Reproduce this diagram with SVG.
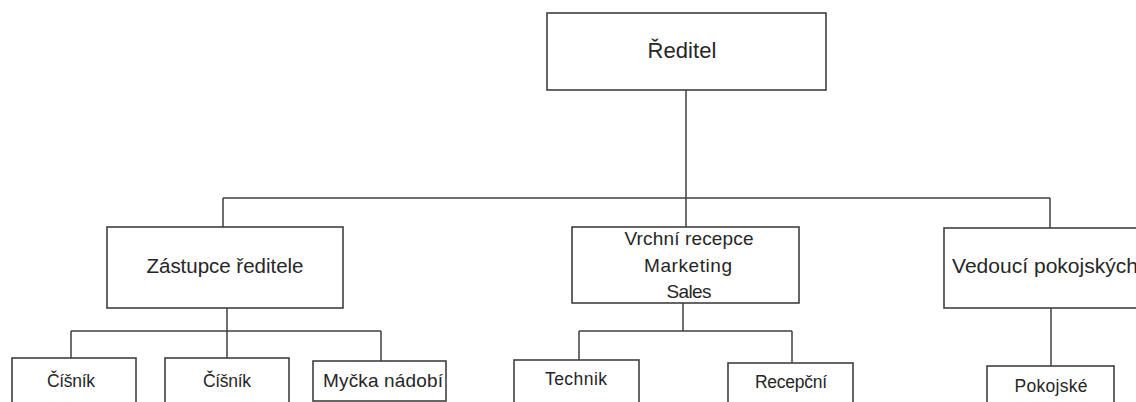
<svg xmlns="http://www.w3.org/2000/svg" width="1136" height="402" viewBox="0 0 1136 402">
<style>
.box{fill:#fff;stroke:#404040;stroke-width:1.6}
.ln{stroke:#404040;stroke-width:1.5;fill:none}
text{font-family:"Liberation Sans",Arial,sans-serif;fill:#262626;text-anchor:middle}
.t1{font-size:22px}
.t2{font-size:20.5px}
.t4{font-size:19px}
.t3{font-size:17.5px}
</style>
<rect width="1136" height="402" fill="#fff"/>
<g id="connectors">
<path class="ln" d="M686 90V198M223 198H1050M223 198V227M686 198V227M1050 198V228"/>
<path class="ln" d="M227 308V358M71 331H381M71 331V358M381 331V361"/>
<path class="ln" d="M683 303V331M579 331H792M579 331V360M792 331V363"/>
<path class="ln" d="M1051 308V366"/>
</g>
<g id="reditel"><rect class="box" x="547" y="13" width="279" height="77"/><text class="t1" x="682" y="58" textLength="69">Ředitel</text></g>
<g id="zastupce"><rect class="box" x="107" y="227" width="236" height="81"/><text class="t2" x="225" y="273" textLength="157">Zástupce ředitele</text></g>
<g id="vrchni"><rect class="box" x="572" y="227" width="227" height="76"/>
<text class="t4" x="689" y="245" textLength="129">Vrchní recepce</text>
<text class="t4" x="688" y="272" textLength="88">Marketing</text>
<text class="t4" x="689" y="298" textLength="45">Sales</text></g>
<g id="vedouci"><rect class="box" x="944" y="228" width="200" height="80"/><text class="t2" x="952" y="273" style="text-anchor:start;font-size:21px" textLength="186">Vedoucí pokojských</text></g>
<g id="cisnik1"><rect class="box" x="12" y="358" width="124" height="50"/><text class="t3" x="71" y="387" textLength="48">Číšník</text></g>
<g id="cisnik2"><rect class="box" x="165" y="358" width="124" height="50"/><text class="t3" x="227" y="387" textLength="48">Číšník</text></g>
<g id="mycka"><rect class="box" x="313" y="361" width="133" height="40"/><text class="t4" x="383" y="387" textLength="120">Myčka nádobí</text></g>
<g id="technik"><rect class="box" x="514" y="360" width="125" height="50"/><text class="t3" x="576" y="385" textLength="62">Technik</text></g>
<g id="recepcni"><rect class="box" x="728" y="363" width="125" height="50"/><text class="t3" x="791" y="388" textLength="72">Recepční</text></g>
<g id="pokojske"><rect class="box" x="987" y="366" width="127" height="50"/><text class="t3" x="1051" y="392" textLength="73">Pokojské</text></g>
</svg>
